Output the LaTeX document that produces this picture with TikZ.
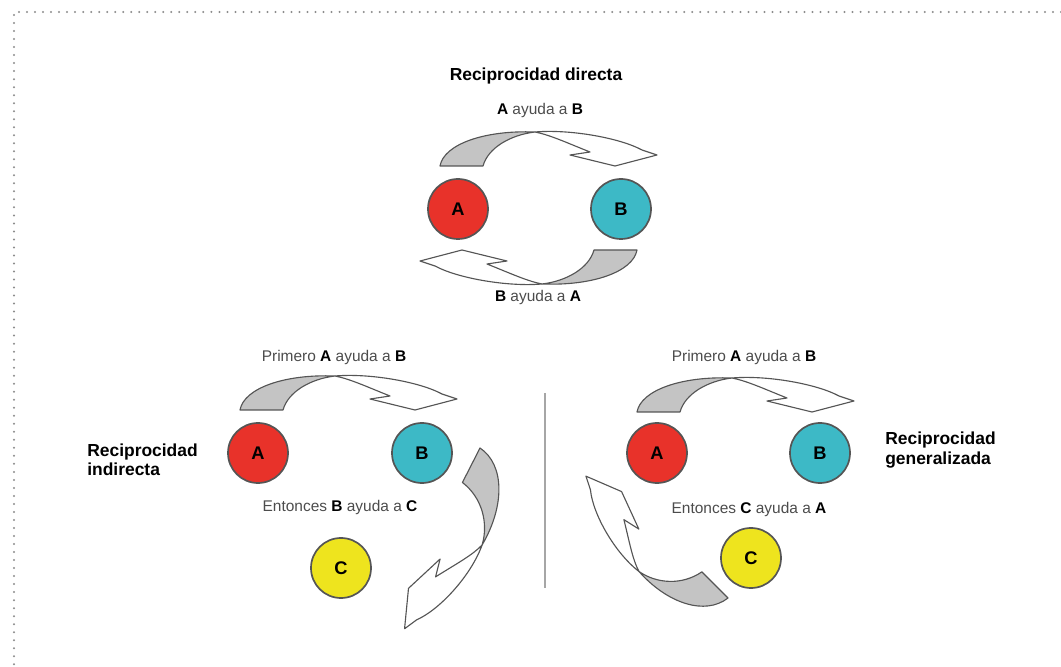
\documentclass[tikz,border=0pt]{standalone}
\usepackage{fontspec}
\setmainfont{Liberation Sans}
\usepackage{tikz}
\usetikzlibrary{positioning}

\definecolor{rojo}{HTML}{E8322A}
\definecolor{turquesa}{HTML}{3DB9C6}
\definecolor{amarillo}{HTML}{EEE41E}
\definecolor{cinta}{HTML}{C4C4C4}
\definecolor{borde}{HTML}{555555}
\definecolor{puntos}{HTML}{8C8C8C}

\tikzset{
  ball/.style={circle, draw=borde, line width=1.2pt, minimum size=1.5cm, inner sep=0pt,
    font=\fontsize{13}{15}\selectfont\bfseries},
  ttl/.style={font=\fontsize{12.4}{13.8}\selectfont\bfseries, inner sep=0pt},
  lbl/.style={font=\fontsize{11}{13}\selectfont, text=black!70, inner sep=0pt},
  ribbon/.style={draw=borde, line width=0.8pt, line join=round},
}

\newcommand{\letra}[1]{\textcolor{black}{\textbf{#1}}}

% curved block arrow, tail corner at the origin, drawn in pixel units
\newcommand{\vuelta}[1]{%
  \begin{scope}[#1]
    \filldraw[ribbon, fill=cinta] (0,0) .. controls (4,22) and (45,36) .. (95,34)
      .. controls (70,31) and (48,18) .. (43,0) -- cycle;
    \filldraw[ribbon, fill=white] (95,34) .. controls (130,37) and (180,28) .. (202,16)
      -- (217,11) -- (175,0) -- (130,11) -- (150,14)
      .. controls (125,24) and (110,31) .. (95,34);
  \end{scope}}

\begin{document}
\begin{tikzpicture}[x=0.025cm, y=0.025cm]
	\useasboundingbox (0,0) rectangle (1061,666);
	\draw[puntos, line width=1.6pt, line cap=round, dash pattern=on 0pt off 5.7pt]
		(1061,654) -- (14,654) -- (14,0);

	% directa
	\node[ttl] (tit) at (536,590) {Reciprocidad directa};
	\node[lbl] (ab1) at (540,555) {\letra{A} ayuda a \letra{B}};
	\node[ball, fill=rojo] (tA) at (458,457) {A};
	\node[ball, fill=turquesa] (tB) at (621,457) {B};
	\node[lbl] (ba1) at (538,368) {\letra{B} ayuda a \letra{A}};
	\vuelta{shift={(440,500)}}
	\vuelta{shift={(637,416)}, rotate=180}

	% indirecta
	\node[lbl] (ab2) at (334,308) {Primero \letra{A} ayuda a \letra{B}};
	\node[ball, fill=rojo] (iA) at (258,213) {A};
	\node[ball, fill=turquesa] (iB) at (422,213) {B};
	\node[lbl] (bc2) at (340,158) {Entonces \letra{B} ayuda a \letra{C}};
	\node[ball, fill=amarillo] (iC) at (341,98) {C};
	\node[ttl, align=left, anchor=west] (ind) at (87,206) {Reciprocidad\\indirecta};
	\vuelta{shift={(240,256)}}
	\vuelta{shift={(480,218)}, rotate=-117, xscale=0.9, yscale=1.35}

	\draw[black!35, line width=1.2pt] (545,273) -- (545,78);

	% generalizada
	\node[lbl] (ab3) at (744,308) {Primero \letra{A} ayuda a \letra{B}};
	\node[ball, fill=rojo] (gA) at (657,213) {A};
	\node[ball, fill=turquesa] (gB) at (820,213) {B};
	\node[lbl] (ca3) at (749,156) {Entonces \letra{C} ayuda a \letra{A}};
	\node[ball, fill=amarillo] (gC) at (751,108) {C};
	\node[ttl, align=left, anchor=west] (gen) at (885,216) {Reciprocidad\\generalizada};
	\vuelta{shift={(637,254)}}
	\vuelta{shift={(728,68)}, rotate=135, xscale=0.86, yscale=1.3}
\end{tikzpicture}
\end{document}
